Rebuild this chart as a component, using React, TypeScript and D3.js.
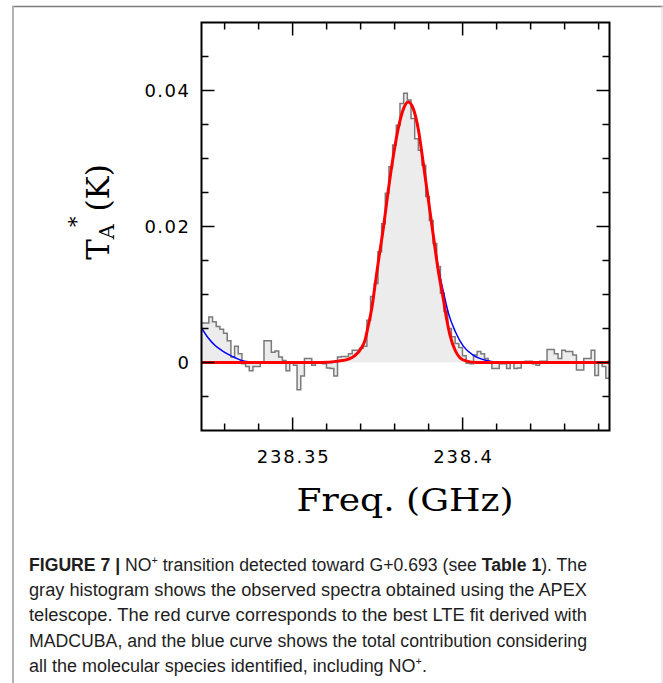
import * as d3 from "d3"
import { useEffect, useRef } from "react"

const W = 663
const H = 683

// observed spectrum (APEX): regular channel grid, T_A* in K
const chanStart = 238.3232
const chanWidth = 0.12 / 111
const spectrum = [
  0.0058, 0.0058, 0.0067, 0.006, 0.0053, 0.0049, 0.0043, 0.0032, 0.0008, 0.0024,
  0.0013, -0.0002, -0.0006, -0.0012, -0.0006, -0.0006, 0.0, 0.0032, 0.0032, 0.0015,
  0.0017, 0.0008, 0.0003, -0.0012, 0.0, -0.0004, -0.004, -0.002, 0.0006, 0.0006,
  -0.0004, 0.0001, -0.0001, -0.0002, -0.0008, -0.0009, -0.002, 0.0008, 0.0009, 0.0009,
  0.0013, 0.0018, 0.0018, 0.0021, 0.0024, 0.0062, 0.0097, 0.0116, 0.0163, 0.0204,
  0.0249, 0.0288, 0.032, 0.0349, 0.0381, 0.0396, 0.0386, 0.0359, 0.0329, 0.0312,
  0.029, 0.0244, 0.0209, 0.0175, 0.0141, 0.0102, 0.0075, 0.005, 0.0038, 0.0028,
  0.0022, 0.001, -0.0001, -0.0002, 0.0011, 0.0016, 0.0013, 0.0006, 0.0, -0.0009,
  -0.0009, -0.0002, -0.0002, -0.0009, 0.0001, -0.0009, -0.0008, -0.0001, 0.0002, 0.0002,
  -0.0002, -0.0004, 0.0002, 0.0002, 0.0019, 0.0019, 0.0013, 0.0006, 0.0018, 0.0016,
  0.0016, 0.0011, -0.0011, -0.0011, 0.0006, 0.0006, 0.0018, -0.0019, 0.0001, -0.0006,
  -0.0023,
]

// NO+ LTE fit (red)
const redFreq = [
  238.3232, 238.3581, 238.3634, 238.3664, 238.3683, 238.3703, 238.3713, 238.3722,
  238.3733, 238.3742, 238.3752, 238.3767, 238.3781, 238.3796, 238.3811, 238.3826,
  238.384, 238.3855, 238.387, 238.3884, 238.3899, 238.3914, 238.3928, 238.3943,
  238.3953, 238.3963, 238.3978, 238.3992, 238.4012, 238.4041, 238.4432,
]
const redTemp = [
  0, 0, 0.0002, 0.0005, 0.001, 0.0022, 0.0033, 0.0053,
  0.008, 0.0112, 0.0148, 0.0198, 0.0252, 0.0303, 0.0345, 0.0373,
  0.0383, 0.0373, 0.0342, 0.0294, 0.024, 0.0186, 0.0136, 0.0094,
  0.0064, 0.004, 0.0018, 0.0007, 0.0002, 0, 0,
]

// total contribution of all species (blue)
const blueFreq = [
  238.3232, 238.3252, 238.3272, 238.3291, 238.3311, 238.3331, 238.335, 238.337,
  238.3398, 238.361, 238.3634, 238.3664, 238.3683, 238.3703, 238.3713, 238.3722,
  238.3733, 238.3742, 238.3752, 238.3767, 238.3781, 238.3796, 238.3811, 238.3826,
  238.384, 238.3855, 238.387, 238.3884, 238.3899, 238.3914, 238.3928, 238.3943,
  238.3958, 238.3978, 238.4002, 238.4031, 238.4071, 238.411, 238.4404, 238.4432,
]
const blueTemp = [
  0.0051, 0.0036, 0.0025, 0.0018, 0.0012, 0.0007, 0.0003, 0.0001,
  0, 0, 0.0002, 0.0005, 0.001, 0.0022, 0.0033, 0.0053,
  0.008, 0.0112, 0.0148, 0.0198, 0.0252, 0.0303, 0.0345, 0.0373,
  0.0383, 0.0373, 0.0342, 0.0294, 0.024, 0.0187, 0.0141, 0.0105,
  0.0073, 0.0046, 0.0024, 0.0011, 0.0003, 0, 0, 0.0002,
]

const xDomain = [238.3232, 238.4432]
const yDomain = [-0.01, 0.05]
const xMajor = [238.35, 238.4]
const xTickLabels = ["238.35", "238.4"]
const yMajor = [0, 0.02, 0.04]
const yTickLabels = ["0", "0.02", "0.04"]
const xLabel = "Freq. (GHz)"

type Seg = { t: string; bold?: boolean; sup?: boolean }
const captionLines: Seg[][] = [
  [
    { t: "FIGURE 7 | ", bold: true },
    { t: "NO" },
    { t: "+", sup: true },
    { t: " transition detected toward G+0.693 (see " },
    { t: "Table 1", bold: true },
    { t: "). The" },
  ],
  [{ t: "gray histogram shows the observed spectra obtained using the APEX" }],
  [{ t: "telescope. The red curve corresponds to the best LTE fit derived with" }],
  [{ t: "MADCUBA, and the blue curve shows the total contribution considering" }],
  [{ t: "all the molecular species identified, including NO" }, { t: "+", sup: true }, { t: "." }],
]
const captionWidths = [558, 558, 558, 558, 398]

export default function App() {
  const svgRef = useRef<SVGSVGElement>(null)

  useEffect(() => {
    if (!svgRef.current) return
    const svg = d3.select(svgRef.current)
    svg.selectAll("*").remove()

    const plot = { left: 201.5, top: 22.5, right: 609.5, bottom: 430.5 }
    const x = d3.scaleLinear().domain(xDomain).range([plot.left, plot.right])
    const y = d3.scaleLinear().domain(yDomain).range([plot.bottom, plot.top])

    // page frame
    svg.append("line").attr("x1", 12).attr("x2", W).attr("y1", 6.5).attr("y2", 6.5)
      .attr("stroke", "#7c7c7c").attr("stroke-width", 1.5)
    svg.append("line").attr("x1", 13).attr("x2", 13).attr("y1", 6).attr("y2", H)
      .attr("stroke", "#b4b4b4").attr("stroke-width", 2)
    svg.append("line").attr("x1", 662).attr("x2", 662).attr("y1", 6).attr("y2", H)
      .attr("stroke", "#d8d8d8").attr("stroke-width", 1)

    svg.append("defs").append("clipPath").attr("id", "plot-clip")
      .append("rect")
      .attr("x", plot.left).attr("y", plot.top)
      .attr("width", plot.right - plot.left).attr("height", plot.bottom - plot.top)

    const g = svg.append("g").attr("clip-path", "url(#plot-clip)")

    // histogram
    const bins = spectrum.map((v, i) => ({ f: chanStart + i * chanWidth, v }))
    bins.push({ f: chanStart + spectrum.length * chanWidth, v: spectrum[spectrum.length - 1] })

    const area = d3.area<{ f: number; v: number }>()
      .x((d) => x(d.f))
      .y0(y(0))
      .y1((d) => y(d.v))
      .curve(d3.curveStepAfter)
    g.append("path").attr("d", area(bins)).attr("fill", "#ececec")

    const step = d3.line<{ f: number; v: number }>()
      .x((d) => x(d.f))
      .y((d) => y(d.v))
      .curve(d3.curveStepAfter)
    g.append("path").attr("d", step(bins))
      .attr("fill", "none").attr("stroke", "#7a7a7a").attr("stroke-width", 1.5)

    // fits
    const fit = d3.line<[number, number]>()
      .x((d) => x(d[0]))
      .y((d) => y(d[1]))
      .curve(d3.curveMonotoneX)
    g.append("path").attr("d", fit(d3.zip(blueFreq, blueTemp) as [number, number][]))
      .attr("fill", "none").attr("stroke", "#0000ff").attr("stroke-width", 1.5)
    g.append("path").attr("d", fit(d3.zip(redFreq, redTemp) as [number, number][]))
      .attr("fill", "none").attr("stroke", "#ff0000").attr("stroke-width", 3)

    // frame and ticks
    svg.append("rect")
      .attr("x", plot.left).attr("y", plot.top)
      .attr("width", plot.right - plot.left).attr("height", plot.bottom - plot.top)
      .attr("fill", "none").attr("stroke", "#000").attr("stroke-width", 2)

    const xMinor = d3.range(33, 45).map((k) => 238 + k / 100)
    const yMinor = d3.range(-1, 10).map((k) => k * 0.005)
    const isMajor = (v: number, arr: number[]) => arr.some((m) => Math.abs(m - v) < 1e-6)

    const ticks = svg.append("g").attr("stroke", "#000").attr("stroke-width", 1.5)
    xMinor.forEach((f) => {
      const len = isMajor(f, xMajor) ? 13 : 7
      ticks.append("line").attr("x1", x(f)).attr("x2", x(f))
        .attr("y1", plot.bottom).attr("y2", plot.bottom - len)
      ticks.append("line").attr("x1", x(f)).attr("x2", x(f))
        .attr("y1", plot.top).attr("y2", plot.top + len)
    })
    yMinor.forEach((v) => {
      const len = isMajor(v, yMajor) ? 13 : 7
      ticks.append("line").attr("y1", y(v)).attr("y2", y(v))
        .attr("x1", plot.left).attr("x2", plot.left + len)
      ticks.append("line").attr("y1", y(v)).attr("y2", y(v))
        .attr("x1", plot.right).attr("x2", plot.right - len)
    })

    // tick labels
    xMajor.forEach((f, i) => {
      svg.append("text")
        .attr("x", x(f) + 1).attr("y", 463)
        .attr("text-anchor", "middle")
        .attr("font-family", "DejaVu Sans, sans-serif")
        .attr("font-size", 18)
        .attr("letter-spacing", 1.8)
        .attr("fill", "#000")
        .text(xTickLabels[i])
    })
    yMajor.forEach((v, i) => {
      svg.append("text")
        .attr("x", 190.5).attr("y", y(v))
        .attr("dy", "0.36em")
        .attr("text-anchor", "end")
        .attr("font-family", "DejaVu Sans, sans-serif")
        .attr("font-size", 18)
        .attr("letter-spacing", 1.5)
        .attr("fill", "#000")
        .text(yTickLabels[i])
    })

    // axis titles
    svg.append("text")
      .attr("x", 405).attr("y", 511)
      .attr("text-anchor", "middle")
      .attr("font-family", "DejaVu Serif, serif")
      .attr("font-size", 32)
      .attr("textLength", 217)
      .attr("lengthAdjust", "spacingAndGlyphs")
      .text(xLabel)

    const yl = svg.append("text")
      .attr("transform", "translate(109,212) rotate(-90)")
      .attr("text-anchor", "middle")
      .attr("font-family", "DejaVu Serif, serif")
      .attr("font-size", 31)
    yl.append("tspan").text("T")
    yl.append("tspan").attr("font-size", 21).attr("dy", 5).text("A")
    yl.append("tspan").attr("font-size", 21).attr("dy", -31).attr("dx", -3).text("*")
    yl.append("tspan").attr("dy", 26).attr("dx", 5).text("(K)")

    // caption
    captionLines.forEach((segs, li) => {
      const t = svg.append("text")
        .attr("x", 29).attr("y", 570.7 + li * 25.3)
        .attr("font-family", "Liberation Sans, Arial, sans-serif")
        .attr("font-size", 18)
        .attr("fill", "#1e1e1e")
        .attr("textLength", captionWidths[li])
        .attr("lengthAdjust", "spacingAndGlyphs")
      let raised = false
      segs.forEach((s) => {
        const ts = t.append("tspan").text(s.t)
        if (s.bold) ts.attr("font-weight", "bold")
        if (s.sup) {
          ts.attr("font-size", 11).attr("dy", -7)
          raised = true
        } else if (raised) {
          ts.attr("dy", 7)
          raised = false
        }
      })
    })
  }, [])

  return (
    <svg
      ref={svgRef}
      width={W}
      height={H}
      style={{ position: "absolute", left: 0, top: 0, display: "block", background: "#fff" }}
    />
  )
}
